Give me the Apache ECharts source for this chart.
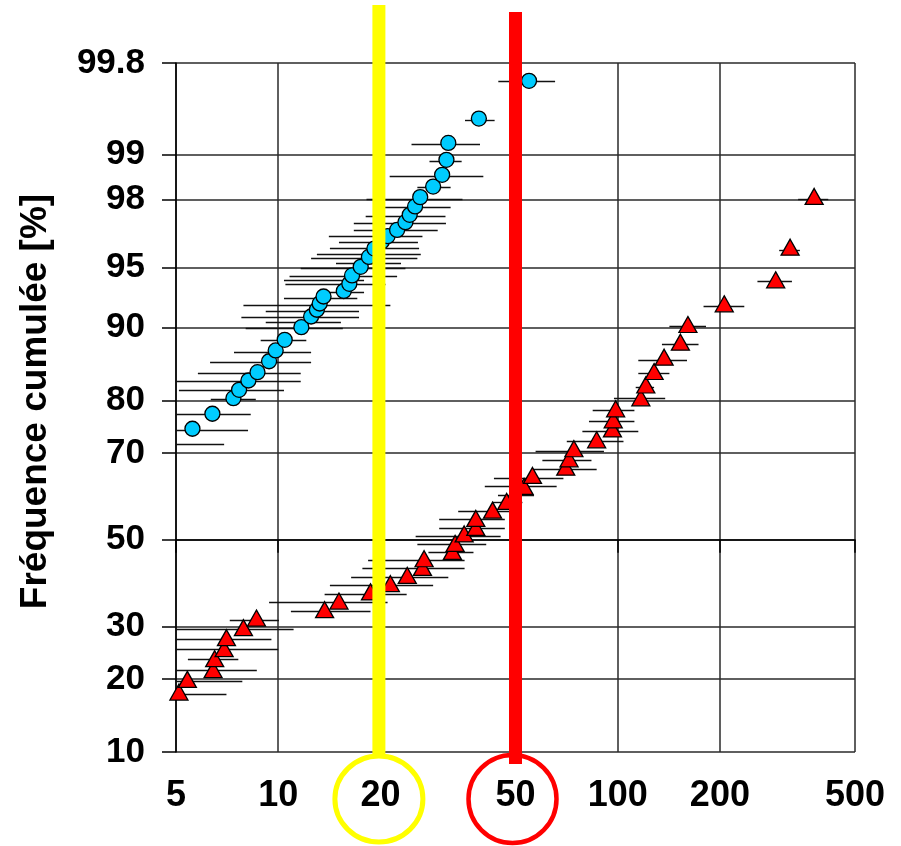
<!DOCTYPE html>
<html>
<head>
<meta charset="utf-8">
<title>Fréquence cumulée</title>
<script src="https://cdn.jsdelivr.net/npm/echarts@6/dist/echarts.min.js"></script>
<style>
  html, body { margin: 0; padding: 0; background: #fff; }
  #chart { width: 901px; height: 846px; }
</style>
</head>
<body>
<div id="chart"></div>
<script>
// tick values
const yTickPct = [10, 20, 30, 50, 70, 80, 90, 95, 98, 99, 99.8];
const xTicks = [5, 10, 20, 50, 100, 200, 500];

// blue circles (value, cumulative %)
const blueX = [5.59, 6.40, 7.38, 7.67, 8.17, 8.69, 9.40, 9.83, 10.45, 11.7, 12.5, 13.0, 13.25, 13.6, 15.6, 16.2, 16.5, 17.5, 18.5, 19.2, 20.2, 21.0, 22.4, 23.7, 24.4, 25.3, 26.2, 28.6, 30.4, 31.3, 31.7, 39.0, 54.8];
const blueP = [74.86, 77.65, 80.36, 81.73, 83.18, 84.41, 85.94, 87.34, 88.63, 90.03, 91.11, 91.75, 92.31, 92.90, 93.34, 93.88, 94.47, 95.03, 95.61, 96.06, 96.41, 96.66, 96.93, 97.24, 97.51, 97.79, 98.07, 98.35, 98.62, 98.91, 99.17, 99.45, 99.72];
// blue horizontal intervals
const blueBarP = [71.88, 74.66, 77.65, 80.26, 81.62, 83.03, 84.32, 85.81, 87.12, 88.55, 89.92, 90.55, 91.04, 91.61, 92.22, 92.76, 93.25, 93.88, 94.17, 94.43, 94.95, 95.25, 95.54, 95.80, 96.11, 96.38, 96.65, 96.92, 97.20, 97.48, 97.76, 98.03, 98.33, 98.60, 98.89, 99.15, 99.44, 99.72];
const blueBarLo = [5, 5, 5, 6.33, 5.1, 5, 5.80, 6.30, 7.41, 8.88, 8.02, 9.19, 7.79, 9.19, 7.90, 10.4, 13.6, 10.5, 10.4, 10.8, 11.65, 14.8, 12.5, 13.0, 14.2, 15.1, 14.1, 16.7, 16.7, 18.1, 20.6, 18.2, 25.7, 21.3, 27.9, 24.7, 35.5, 44.5];
const blueBarHi = [6.93, 8.15, 8.30, 8.59, 10.4, 11.65, 11.65, 12.5, 12.5, 12.1, 15.5, 15.3, 17.3, 17.3, 21.4, 17.1, 17.9, 20.7, 17.9, 22.4, 23.7, 23.0, 25.7, 26.3, 26.0, 25.8, 26.6, 29.5, 31.2, 31.1, 32.2, 34.9, 32.2, 40.2, 34.7, 39.3, 43.4, 65.4];

// red triangles
const redX = [5.10, 5.40, 6.43, 6.50, 6.93, 7.04, 7.90, 8.63, 13.7, 15.1, 18.7, 21.4, 24.0, 26.6, 26.9, 32.6, 33.2, 35.3, 38.2, 38.2, 42.8, 47.1, 53.0, 56.1, 70.3, 71.9, 74.3, 86.7, 96.5, 97.0, 98.6, 117, 121, 128, 137, 153, 161, 206, 292, 322, 379];
const redP = [17.89, 19.96, 21.63, 23.63, 25.53, 27.71, 29.77, 31.81, 33.63, 35.55, 37.64, 39.53, 41.47, 43.36, 45.43, 47.19, 49.11, 51.40, 52.96, 55.11, 57.09, 59.14, 62.62, 65.10, 66.93, 68.75, 70.86, 72.69, 74.82, 76.55, 78.54, 80.43, 82.49, 84.51, 86.48, 88.35, 90.31, 92.28, 94.17, 96.13, 98.09];
const redBarP = [17.63, 19.67, 21.63, 23.50, 25.53, 27.51, 29.41, 31.31, 33.33, 35.32, 37.22, 39.14, 41.07, 43.20, 45.15, 47.02, 48.99, 50.79, 52.79, 54.88, 56.78, 58.91, 60.61, 62.62, 64.50, 66.43, 68.39, 70.36, 72.35, 74.39, 76.37, 78.37, 80.31, 82.21, 84.26, 86.17, 88.16, 90.13, 92.11, 94.07, 96.01, 98.02];
const redBarLo = [5, 5, 5, 5.42, 5, 5, 5, 7.20, 10.9, 9.40, 13.7, 14.2, 16.4, 17.7, 18.4, 27.7, 25.7, 25.4, 29.8, 29.8, 33.9, 42.8, 44.4, 40.6, 43.2, 56.3, 60.0, 57.3, 70.8, 78.7, 82.3, 84.4, 97.5, 113, 115, 115, 135, 142, 179, 258, 299, 340];
const redBarHi = [7.04, 7.84, 8.65, 7.63, 10.0, 9.55, 11.1, 10.05, 18.7, 21.0, 23.9, 28.6, 31.7, 35.4, 35.4, 37.6, 41.0, 45.2, 46.5, 46.5, 50.1, 52.4, 56.7, 66.1, 69.2, 86.7, 83.7, 91.1, 104, 115, 112, 112, 138, 128, 142, 160, 173, 182, 236, 326, 344, 417];

// highlighted values on x axis
const highlightX = [20, 50];
const highlightColor = ['#FFFF00', '#FF0000'];

// inverse normal cdf (Acklam) -> probability axis
function probit(p) {
  const a = [-3.969683028665376e+01, 2.209460984245205e+02, -2.759285104469687e+02, 1.383577518672690e+02, -3.066479806614716e+01, 2.506628277459239e+00];
  const b = [-5.447609879822406e+01, 1.615858368580409e+02, -1.556989798598866e+02, 6.680131188771972e+01, -1.328068155288572e+01];
  const c = [-7.784894002430293e-03, -3.223964580411365e-01, -2.400758277161838e+00, -2.549732539343734e+00, 4.374664141464968e+00, 2.938163982698783e+00];
  const d = [7.784695709041462e-03, 3.224671290700398e-01, 2.445134137142996e+00, 3.754408661907416e+00];
  const pl = 0.02425;
  let q, r;
  if (p < pl) {
    q = Math.sqrt(-2 * Math.log(p));
    return (((((c[0]*q+c[1])*q+c[2])*q+c[3])*q+c[4])*q+c[5]) / ((((d[0]*q+d[1])*q+d[2])*q+d[3])*q+1);
  }
  if (p <= 1 - pl) {
    q = p - 0.5; r = q * q;
    return (((((a[0]*r+a[1])*r+a[2])*r+a[3])*r+a[4])*r+a[5])*q / (((((b[0]*r+b[1])*r+b[2])*r+b[3])*r+b[4])*r+1);
  }
  q = Math.sqrt(-2 * Math.log(1 - p));
  return -(((((c[0]*q+c[1])*q+c[2])*q+c[3])*q+c[4])*q+c[5]) / ((((d[0]*q+d[1])*q+d[2])*q+d[3])*q+1);
}
const zOf = pct => probit(pct / 100);

const yTickZ = yTickPct.map(zOf);
const xTickLog = xTicks.map(Math.log10);
function nearest(arr, v) {
  let best = 0;
  arr.forEach((t, i) => { if (Math.abs(t - v) < Math.abs(arr[best] - v)) best = i; });
  return best;
}

const points = (xs, ps) => xs.map((x, i) => [Math.log10(x), zOf(ps[i])]);
const bars = (ps, lo, hi) => ps.map((p, i) => [Math.log10(lo[i]), Math.log10(hi[i]), zOf(p)]);

function renderBar(params, api) {
  const a = api.coord([api.value(0), api.value(2)]);
  const b = api.coord([api.value(1), api.value(2)]);
  const y = Math.round(a[1]) + 0.5;
  return {
    type: 'line',
    shape: { x1: a[0], y1: y, x2: b[0], y2: y },
    style: { stroke: '#111', lineWidth: 1.4 }
  };
}

const boldFont = "'Liberation Sans', Arial, sans-serif";

const chart = echarts.init(document.getElementById('chart'));
const option = {
  animation: false,
  backgroundColor: '#fff',
  grid: { left: 176, right: 46, top: 63, bottom: 94 },
  xAxis: {
    type: 'value',
    min: xTickLog[0],
    max: xTickLog[xTickLog.length - 1],
    axisLine: { lineStyle: { color: '#000', width: 1.5 } },
    axisTick: { customValues: xTickLog, length: 13, lineStyle: { color: '#000', width: 1.5 } },
    splitLine: { show: true, lineStyle: { color: '#2a2a2a', width: 1.5 } },
    axisLabel: {
      customValues: xTickLog,
      margin: 26,
      color: '#000',
      fontWeight: 'bold',
      fontSize: 36,
      fontFamily: boldFont,
      formatter: v => String(xTicks[nearest(xTickLog, v)])
    }
  },
  yAxis: {
    type: 'value',
    min: yTickZ[0],
    max: yTickZ[yTickZ.length - 1],
    name: 'Fréquence cumulée [%]',
    nameLocation: 'middle',
    nameGap: 122,
    nameTextStyle: { color: '#000', fontWeight: 'bold', fontSize: 37, fontFamily: boldFont, padding: [0, 0, 0, 12] },
    axisLine: { lineStyle: { color: '#000', width: 1.5 } },
    axisTick: { customValues: yTickZ, length: 14, lineStyle: { color: '#000', width: 1.5 } },
    splitLine: { show: true, lineStyle: { color: '#2a2a2a', width: 1.5 } },
    axisLabel: {
      customValues: yTickZ,
      margin: 31,
      color: '#000',
      fontWeight: 'bold',
      fontSize: 35,
      fontFamily: boldFont,
      formatter: v => String(yTickPct[nearest(yTickZ, v)])
    }
  },
  series: [
    {
      type: 'custom',
      name: 'blue interval',
      renderItem: renderBar,
      encode: { x: [0, 1], y: 2 },
      data: bars(blueBarP, blueBarLo, blueBarHi),
      z: 2
    },
    {
      type: 'custom',
      name: 'red interval',
      renderItem: renderBar,
      encode: { x: [0, 1], y: 2 },
      data: bars(redBarP, redBarLo, redBarHi),
      z: 2
    },
    {
      type: 'scatter',
      name: 'blue',
      symbol: 'circle',
      symbolSize: 15,
      itemStyle: { color: '#00CCFF', borderColor: '#000', borderWidth: 1.3, opacity: 1 },
      data: points(blueX, blueP),
      z: 3
    },
    {
      type: 'scatter',
      name: 'red',
      symbol: 'triangle',
      symbolSize: [18, 16],
      itemStyle: { color: '#FF0000', borderColor: '#000', borderWidth: 1.3, opacity: 1 },
      data: points(redX, redP),
      z: 3
    }
  ]
};
chart.setOption(option);

// highlight bands and circled labels, placed from the axis scale
const hx = highlightX.map(v => chart.convertToPixel({ xAxisIndex: 0 }, Math.log10(v)));
const gridBottom = chart.convertToPixel({ yAxisIndex: 0 }, yTickZ[0]);
chart.setOption({
  graphic: [
    { type: 'line', z: 100, shape: { x1: hx[0] - 1.5, y1: 5, x2: hx[0] - 1.5, y2: gridBottom + 2 },
      style: { stroke: highlightColor[0], lineWidth: 13 } },
    { type: 'line', z: 100, shape: { x1: hx[1], y1: 12, x2: hx[1], y2: gridBottom + 12 },
      style: { stroke: highlightColor[1], lineWidth: 13 } },
    { type: 'ellipse', z: 100, shape: { cx: hx[0] - 1.5, cy: gridBottom + 47, rx: 44, ry: 43 },
      style: { fill: null, stroke: highlightColor[0], lineWidth: 5 } },
    { type: 'ellipse', z: 100, shape: { cx: hx[1] - 3, cy: gridBottom + 47, rx: 44, ry: 44 },
      style: { fill: null, stroke: highlightColor[1], lineWidth: 4.5 } }
  ]
});
</script>
</body>
</html>
